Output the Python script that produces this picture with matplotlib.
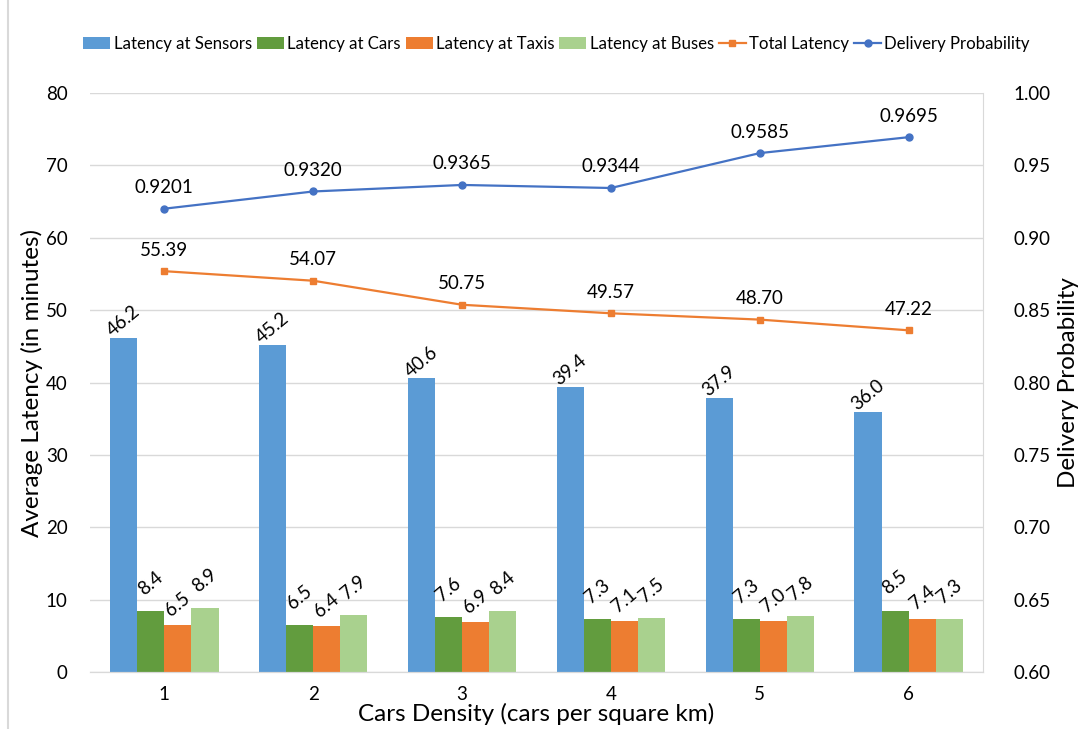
import matplotlib
matplotlib.use("Agg")
import matplotlib.pyplot as plt
import numpy as np
from matplotlib.lines import Line2D

plt.rcParams['font.family'] = ['Lato', 'DejaVu Sans']

categories = ['1', '2', '3', '4', '5', '6']
sensors = [46.2, 45.2, 40.6, 39.4, 37.9, 36.0]
cars = [8.4, 6.5, 7.6, 7.3, 7.3, 8.5]
taxis = [6.5, 6.4, 6.9, 7.1, 7.0, 7.4]
buses = [8.9, 7.9, 8.4, 7.5, 7.8, 7.3]
total = [55.39, 54.07, 50.75, 49.57, 48.70, 47.22]
delivery = [0.9201, 0.9320, 0.9365, 0.9344, 0.9585, 0.9695]

# name, values, colour, label lift (points)
bar_series = [
    ('Latency at Sensors', sensors, '#5B9BD5', 12),
    ('Latency at Cars', cars, '#629C3E', 20),
    ('Latency at Taxis', taxis, '#ED7D31', 15),
    ('Latency at Buses', buses, '#A9D18E', 20),
]

fig = plt.figure(figsize=(10.83, 7.29), dpi=100)
ax = fig.add_axes([0.083, 0.078, 0.8247, 0.7944])
ax2 = ax.twinx()

x = np.arange(len(categories))
w = 0.182
handles = []
for i, (name, vals, col, lift) in enumerate(bar_series):
    pos = x + (i - 1.5) * w
    b = ax.bar(pos, vals, w, color=col, label=name, zorder=2)
    handles.append(b)
    for px, v in zip(pos, vals):
        ax.annotate(f'{v:.1f}', (px, v), xytext=(0, lift), textcoords='offset points',
                    rotation=40, ha='center', va='center', fontsize=13.5,
                    rotation_mode='anchor', zorder=5)

l1, = ax.plot(x, total, color='#ED7D31', marker='s', markersize=5, lw=1.6, label='Total Latency', zorder=4)
for px, v in zip(x, total):
    ax.annotate(f'{v:.2f}', (px, v), xytext=(0, 9), textcoords='offset points',
                ha='center', va='bottom', fontsize=13.5)

l2, = ax2.plot(x, delivery, color='#4472C4', marker='o', markersize=5, lw=1.6, label='Delivery Probability', zorder=4)
for px, v in zip(x, delivery):
    ax2.annotate(f'{v:.4f}', (px, v), xytext=(0, 9), textcoords='offset points',
                 ha='center', va='bottom', fontsize=13.5)
handles += [l1, l2]

ax.set_xlim(-0.5, len(categories) - 0.5)
ax.set_ylim(0, 80)
ax.set_yticks(range(0, 81, 10))
ax2.set_ylim(0.60, 1.00)
ticks2 = np.arange(0.60, 1.001, 0.05)
ax2.set_yticks(ticks2)
ax2.set_yticklabels([f'{t:.2f}' for t in ticks2])
ax.set_xticks(x)
ax.set_xticklabels(categories)

ax.grid(axis='y', color='#D9D9D9', lw=1, zorder=0)
ax.set_axisbelow(True)
for a in (ax, ax2):
    a.spines['top'].set_visible(False)
    a.spines['left'].set_visible(False)
    a.spines['bottom'].set_color('#D9D9D9')
    a.spines['right'].set_visible(False)
    a.tick_params(length=0, labelsize=13.5)
ax2.spines['right'].set_visible(True)
ax2.spines['right'].set_color('#D9D9D9')
ax.tick_params(axis='y', pad=16)
ax.tick_params(axis='x', pad=10)
ax2.tick_params(axis='y', pad=22)

ax.set_ylabel('Average Latency (in minutes)', fontsize=17.5, labelpad=2)
ax2.set_ylabel('Delivery Probability', fontsize=17.5, labelpad=5)
ax.set_xlabel('Cars Density (cars per square km)', fontsize=17.5, labelpad=0)

fig.legend(handles, [h.get_label() for h in handles], loc='center', bbox_to_anchor=(0.514, 0.94), ncol=6,
           frameon=False, fontsize=12.1, handlelength=1.6, handletextpad=0.2,
           columnspacing=0.3, handleheight=0.7)

fig.add_artist(Line2D([0.007, 0.007], [0, 1], color='#D9D9D9', lw=1.5, transform=fig.transFigure))

fig.savefig('out.png', dpi=100)
